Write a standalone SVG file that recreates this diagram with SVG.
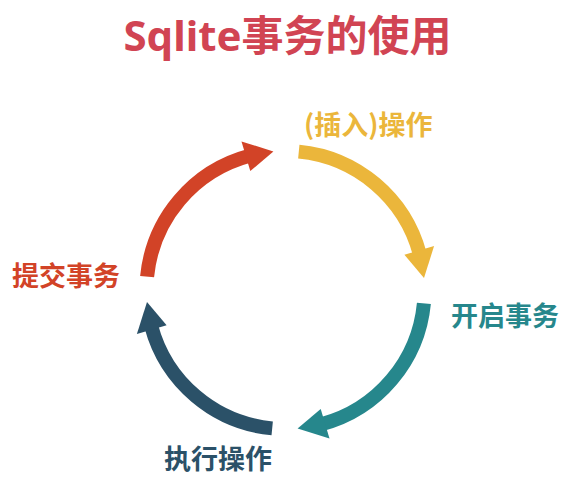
<svg xmlns="http://www.w3.org/2000/svg" width="578" height="483" viewBox="0 0 578 483">
  <defs>
    <style>
      .t { font-family: "Noto Sans CJK SC", "Noto Sans", sans-serif; font-weight: bold; }
      .title { font-family: "Noto Sans", "Noto Sans CJK SC", sans-serif; font-weight: bold; font-size: 42px; fill: #D14453; }
      .lbl { font-size: 27px; }
      .shaft { fill: none; stroke-width: 14; stroke-linecap: butt; }
    </style>
    <g id="arrow">
      <path class="shaft" d="M 13.3,-138.4 A 139 139 0 0 1 134.3,-36.0"/>
      <polygon points="118.9,-35.2 148.6,-44.0 138.5,-12.1" stroke="none"/>
    </g>
  </defs>
  <rect width="578" height="483" fill="#FFFFFF"/>
  <text id="title" class="title" x="287.5" y="51" text-anchor="middle">Sqlite事务的使用</text>
  <g id="connectors">
    <g id="arrow-insert" transform="translate(285.5,290)" fill="#EBB63B" stroke="#EBB63B"><use href="#arrow"/></g>
    <g id="arrow-begin" transform="translate(285.5,290) rotate(90)" fill="#26878C" stroke="#26878C"><use href="#arrow"/></g>
    <g id="arrow-exec" transform="translate(285.5,290) rotate(180)" fill="#2B5168" stroke="#2B5168"><use href="#arrow"/></g>
    <g id="arrow-commit" transform="translate(285.5,290) rotate(270)" fill="#D24327" stroke="#D24327"><use href="#arrow"/></g>
  </g>
  <g id="node-insert"><text class="t lbl" x="304" y="135" fill="#EBB63B">(插入)操作</text></g>
  <g id="node-begin"><text class="t lbl" x="451" y="326" fill="#26878C">开启事务</text></g>
  <g id="node-exec"><text class="t lbl" x="164" y="469" fill="#2B5168">执行操作</text></g>
  <g id="node-commit"><text class="t lbl" x="12" y="286" fill="#D24327">提交事务</text></g>
</svg>
